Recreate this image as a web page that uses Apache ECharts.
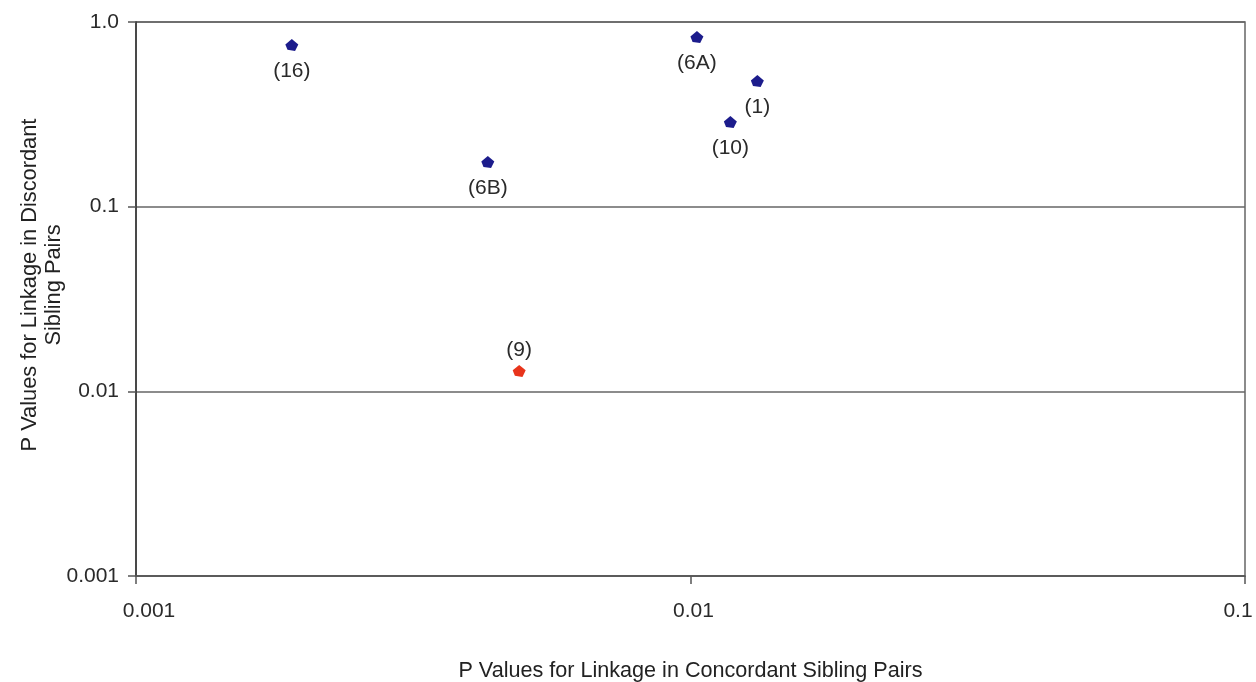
<!DOCTYPE html>
<html>
<head>
<meta charset="utf-8">
<script src="https://cdn.jsdelivr.net/npm/echarts@6/dist/echarts.min.js"></script>
<style>
  html, body { margin: 0; padding: 0; background: #fff; }
  #chart { width: 1256px; height: 682px; }
</style>
</head>
<body>
<div id="chart"></div>
<script>
// chromosome regions and their linkage p values
const regions = ['(16)', '(6A)', '(1)', '(10)', '(6B)', '(9)'];
const concordantP = [0.00191, 0.01027, 0.0132, 0.0118, 0.00431, 0.00491];
const discordantP = [0.751, 0.829, 0.479, 0.2875, 0.1746, 0.0129];
const highlighted = [false, false, false, false, false, true];

const xTickLabels = ['0.001', '0.01', '0.1'];
const yTickLabels = ['0.001', '0.01', '0.1', '1.0'];

const blue = '#1c1c8c';
const red = '#e8341b';
const font = 'Liberation Sans, Arial, sans-serif';
const tickColor = '#2a2a2a';

const myChart = echarts.init(document.getElementById('chart'));

// label index from decade: 0.001 -> 0
const decade = v => Math.round(Math.log10(v)) + 3;

const points = regions.map((name, i) => ({
  value: [concordantP[i], discordantP[i]],
  name: name,
  itemStyle: { color: highlighted[i] ? red : blue, opacity: 1 },
  label: highlighted[i]
    ? { position: 'top', distance: 4 }
    : { position: 'bottom', distance: 10 }
}));

// x tick labels sit a little off their ticks in the original
const xLabelRich = {
  a: { fontFamily: font, fontSize: 21, color: tickColor, padding: [0, 0, 0, 26] },
  b: { fontFamily: font, fontSize: 21, color: tickColor, padding: [0, 0, 0, 6] },
  c: { fontFamily: font, fontSize: 21, color: tickColor, padding: [0, 14, 0, 0] }
};

const option = {
  animation: false,
  backgroundColor: '#fff',
  grid: {
    left: 136,
    right: 11,
    top: 22,
    bottom: 106,
    containLabel: false,
    outerBoundsMode: 'none',
    show: true,
    borderColor: '#666',
    borderWidth: 1.5
  },
  xAxis: {
    type: 'log',
    logBase: 10,
    min: 0.001,
    max: 0.1,
    name: 'P Values for Linkage in Concordant Sibling Pairs',
    nameLocation: 'middle',
    nameGap: 84,
    nameMoveOverlap: false,
    nameTextStyle: { fontFamily: font, fontSize: 21.6, color: '#222' },
    axisLine: { show: true, lineStyle: { color: '#555', width: 1.5 } },
    axisTick: { show: true, inside: false, length: 8, lineStyle: { color: '#555', width: 1.5 } },
    axisLabel: {
      margin: 25,
      fontFamily: font,
      fontSize: 21,
      color: tickColor,
      hideOverlap: false,
      formatter: v => {
        const k = decade(v);
        const txt = xTickLabels[k];
        return txt ? '{' + 'abc'[k] + '|' + txt + '}' : '';
      },
      rich: xLabelRich
    },
    splitLine: { show: false },
    minorTick: { show: false }
  },
  yAxis: {
    type: 'log',
    logBase: 10,
    min: 0.001,
    max: 1,
    name: 'P Values for Linkage in Discordant\nSibling Pairs',
    nameLocation: 'middle',
    nameGap: 70,
    nameMoveOverlap: false,
    nameTextStyle: {
      fontFamily: font,
      fontSize: 21.8,
      lineHeight: 24,
      color: '#222',
      padding: [0, 0, 0, 28]
    },
    axisLine: { show: true, lineStyle: { color: '#333', width: 1.5 } },
    axisTick: { show: true, inside: false, length: 8, lineStyle: { color: '#555', width: 1.5 } },
    axisLabel: {
      margin: 17,
      fontFamily: font,
      fontSize: 21,
      color: tickColor,
      formatter: v => yTickLabels[decade(v)] || ''
    },
    splitLine: { show: true, lineStyle: { color: '#666', width: 1.5 } }
  },
  series: [
    {
      type: 'scatter',
      symbol: 'path://M6,0 L12,5 L9,11 L2,10 L0,5 Z',
      symbolSize: [13, 12],
      data: points,
      label: {
        show: true,
        formatter: '{b}',
        fontFamily: font,
        fontSize: 21,
        color: tickColor
      }
    }
  ]
};

myChart.setOption(option);
window.addEventListener('resize', function () {
  myChart.resize();
});
</script>
</body>
</html>
